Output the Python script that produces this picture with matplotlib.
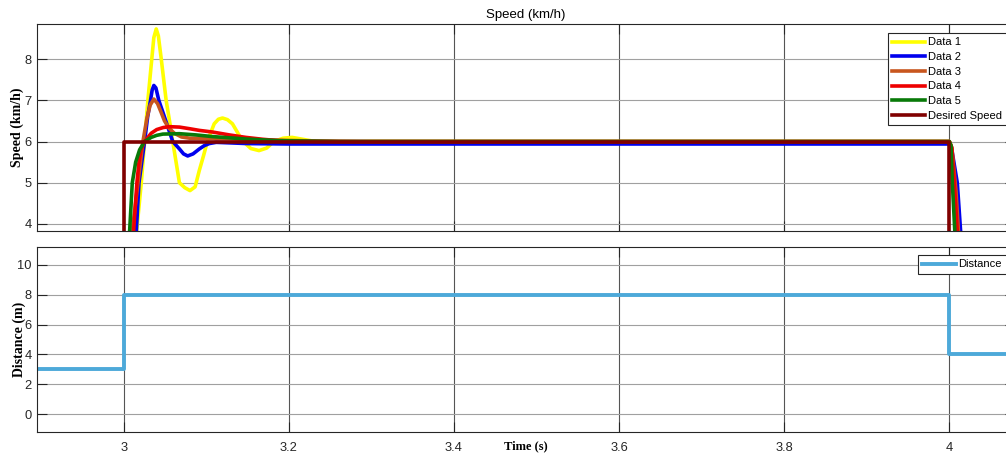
import matplotlib
matplotlib.use("Agg")
import matplotlib.pyplot as plt
from matplotlib.ticker import FuncFormatter

# --- data (time in s, speed in km/h, distance in m) ---
data1_t = [2.89, 3.0, 3.008, 3.0135, 3.017, 3.0213, 3.0253, 3.0293, 3.034, 3.0365, 3.0394, 3.042, 3.0455,
           3.0514, 3.0555, 3.0594, 3.0675, 3.074, 3.0803, 3.0865, 3.0916, 3.0966, 3.1016, 3.1096, 3.1147,
           3.1197, 3.1257, 3.1317, 3.1437, 3.154, 3.1639, 3.173, 3.182, 3.193, 3.204, 3.218, 3.235, 3.26,
           3.3, 4.0, 4.002, 4.005, 4.008, 4.012, 4.02, 4.09]
data1_v = [0, 0, 2.0, 3.3, 4.1, 5.0, 6.0, 7.0, 8.0, 8.52, 8.73, 8.56, 8.0,
           7.0, 6.5, 6.0, 5.0, 4.88, 4.81, 4.9, 5.3, 5.65, 6.02, 6.43, 6.54,
           6.57, 6.53, 6.43, 6.02, 5.83, 5.78, 5.84, 6.0, 6.08, 6.1, 6.05, 5.99, 5.98,
           6.0, 6.0, 5.9, 5.2, 4.3, 3.0, 0, 0]

data2_t = [2.89, 3.0, 3.009, 3.0153, 3.0185, 3.0253, 3.029, 3.0325, 3.0345, 3.0365, 3.039, 3.0425, 3.051,
           3.0594, 3.0675, 3.0725, 3.0775, 3.084, 3.0916, 3.0976, 3.1036, 3.112, 3.125, 3.15, 3.2, 4.0,
           4.003, 4.0096, 4.0136, 4.02, 4.03, 4.09]
data2_v = [0, 0, 2.0, 3.83, 5.0, 6.0, 6.6, 7.0, 7.25, 7.36, 7.3, 7.0, 6.5,
           6.0, 5.82, 5.7, 5.65, 5.7, 5.82, 5.9, 5.95, 5.98, 5.97, 5.95, 5.94, 5.94,
           5.8, 5.0, 3.83, 2.0, 0, 0]

data3_t = [2.89, 3.0, 3.005, 3.0104, 3.0173, 3.0233, 3.028, 3.032, 3.0365, 3.041, 3.0455, 3.0494, 3.055,
           3.0614, 3.07, 3.08, 3.09, 3.10, 3.12, 3.15, 3.19, 3.24, 3.3, 4.0, 4.003, 4.008, 4.011, 4.02,
           4.09]
data3_v = [0, 0, 2.0, 3.83, 5.0, 6.0, 6.55, 6.88, 7.03, 6.92, 6.7, 6.5, 6.32,
           6.2, 6.11, 6.08, 6.08, 6.08, 6.07, 6.05, 6.03, 6.01, 6.0, 6.0, 5.85, 4.8, 3.83, 1.5,
           0]

data4_t = [2.89, 3.0, 3.007, 3.012, 3.016, 3.0185, 3.021, 3.0253, 3.0333, 3.04, 3.048, 3.0554, 3.0675,
           3.08, 3.0916, 3.1076, 3.128, 3.148, 3.168, 3.188, 3.22, 3.26, 3.3, 4.0, 4.003, 4.006, 4.0096,
           4.02, 4.09]
data4_v = [0, 0, 2.0, 3.83, 5.0, 5.5, 5.8, 6.0, 6.2, 6.29, 6.34, 6.36, 6.35,
           6.31, 6.27, 6.23, 6.16, 6.10, 6.055, 6.02, 6.01, 6.0, 6.0, 6.0, 5.85, 5.0, 3.83,
           1.0, 0]

data5_t = [2.89, 3.0, 3.004, 3.0072, 3.0104, 3.0145, 3.0193, 3.0253, 3.0333, 3.04, 3.0474, 3.0675,
           3.0876, 3.1076, 3.128, 3.148, 3.168, 3.188, 3.22, 3.26, 3.3, 4.0, 4.002, 4.0036, 4.0066,
           4.015, 4.09]
data5_v = [0, 0, 2.2, 3.83, 5.0, 5.5, 5.8, 6.0, 6.1, 6.15, 6.18, 6.19,
           6.16, 6.12, 6.09, 6.06, 6.04, 6.02, 6.01, 6.0, 6.0, 6.0, 5.9, 5.0, 3.83,
           1.0, 0]

desired_t = [2.89, 3.0, 3.0, 4.0, 4.0, 4.09]
desired_v = [0, 0, 6, 6, 0, 0]

dist_t = [2.89, 3.0, 4.0, 4.09]
dist_v = [3, 8, 4, 4]

speed_labels = ["Data 1", "Data 2", "Data 3", "Data 4", "Data 5", "Desired Speed"]
speed_colors = ["#ffff00", "#0000ee", "#c8561e", "#ee0000", "#087a08", "#800000"]

x_ticks = [3.0, 3.2, 3.4, 3.6, 3.8, 4.0]
speed_ticks = [4, 5, 6, 7, 8]
dist_ticks = [0, 2, 4, 6, 8, 10]

sans = ["Liberation Sans", "DejaVu Sans"]
serif = "Liberation Serif"

W, H = 1006, 455
fig = plt.figure(figsize=(W / 100, H / 100), dpi=100)
ax1 = fig.add_axes([37 / W, 1 - 231 / H, 978 / W, 207 / H])
ax2 = fig.add_axes([37 / W, 1 - 432 / H, 978 / W, 185 / H])

series = [(data1_t, data1_v), (data2_t, data2_v), (data3_t, data3_v),
          (data4_t, data4_v), (data5_t, data5_v), (desired_t, desired_v)]
for (t, v), lab, c in zip(series, speed_labels, speed_colors):
    ax1.plot(t, v, color=c, lw=2.6, label=lab, solid_joinstyle="round")

ax2.plot(dist_t, dist_v, drawstyle="steps-post", color="#4da9d9", lw=2.8, label="Distance")

fmt = FuncFormatter(lambda x, p: f"{x:g}")
for ax, yt, ylim in [(ax1, speed_ticks, (3.83, 8.85)), (ax2, dist_ticks, (-1.2, 11.2))]:
    ax.set_xlim(2.895, 4.0795)
    ax.set_ylim(*ylim)
    ax.set_xticks(x_ticks)
    ax.set_yticks(yt)
    ax.xaxis.set_major_formatter(fmt)
    ax.grid(axis="x", color="#555555", lw=0.8)
    ax.grid(axis="y", color="#a0a0a0", lw=0.8)
    ax.set_axisbelow(True)
    ax.tick_params(direction="in", length=7, width=0.8, top=True, right=True,
                   labelsize=9.3, colors="#262626")
    ax.tick_params(axis="x", pad=7)
    ax.tick_params(axis="y", pad=4)
    for lbl in ax.get_xticklabels() + ax.get_yticklabels():
        lbl.set_family(sans)
    for s in ax.spines.values():
        s.set_color("#262626")
        s.set_linewidth(0.8)

ax1.tick_params(labelbottom=False)

ax1.set_title("Speed (km/h)", fontsize=9.5, family=sans, pad=4.5)
ax1.set_ylabel("Speed (km/h)", fontsize=10, family=serif, weight="bold")
ax1.yaxis.label.set_va("center")
ax1.yaxis.set_label_coords(-20 / 978, 0.5)
ax2.set_ylabel("Distance (m)", fontsize=10, family=serif, weight="bold")
ax2.yaxis.label.set_va("center")
ax2.yaxis.set_label_coords(-18 / 978, 0.5)
ax2.set_xlabel("Time (s)", fontsize=9, family=serif, weight="bold")
ax2.xaxis.set_label_coords(0.5, -0.045)

leg_kw = dict(loc="upper right", bbox_transform=fig.transFigure, borderaxespad=0,
              fancybox=False, framealpha=1, edgecolor="#262626",
              prop={"family": sans, "size": 8},
              handlelength=3.0, handletextpad=0.25, labelspacing=0.42, borderpad=0.4)
l1 = ax1.legend(bbox_to_anchor=(1006.5 / W, 1 - 33 / H), **leg_kw)
l2 = ax2.legend(bbox_to_anchor=(1006.5 / W, 1 - 255 / H), **leg_kw)
for leg in (l1, l2):
    leg.get_frame().set_linewidth(0.8)

fig.savefig("out.png", dpi=100)
